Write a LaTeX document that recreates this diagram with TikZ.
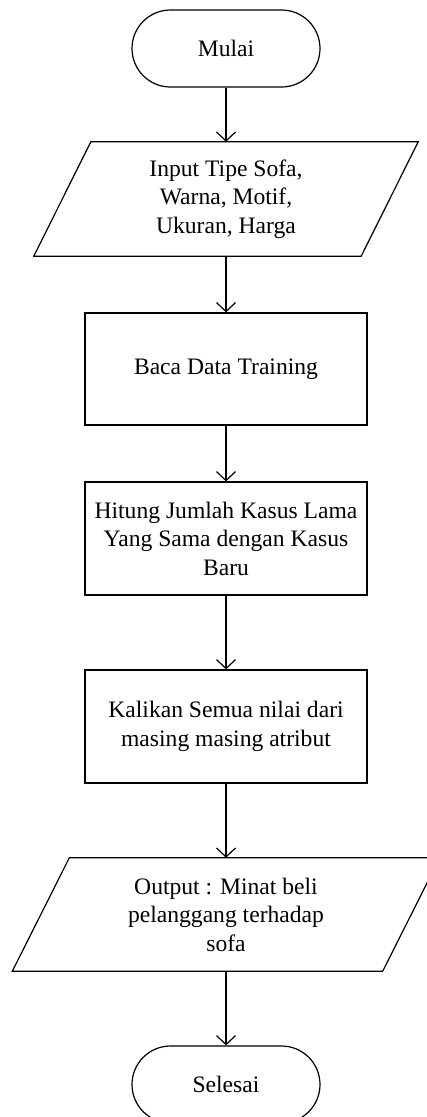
\documentclass[tikz,border=0pt]{standalone}
\usepackage{fontspec}
\setmainfont{Liberation Serif}
\usetikzlibrary{arrows.meta,calc}
\tikzset{
  flow/.style={line width=1.2pt, -{Straight Barb[length=9pt,width=19pt,line width=1.2pt]}},
  lbl/.style={font=\fontsize{23.6}{28.5}\selectfont, align=center, inner sep=0pt},
  terminal/.style={draw, line width=1.2pt, rounded corners=38.5pt, minimum width=188pt, minimum height=77pt, lbl},
  process/.style={draw, line width=1.2pt, minimum width=282pt, minimum height=113pt, lbl},
  io/.style={minimum height=114pt, lbl},
  slanted/.style={draw, line width=1.2pt, line join=miter}
}
\begin{document}
\begin{tikzpicture}[x=1pt, y=-1pt]
  \useasboundingbox (0,0) rectangle (427,1117);
  \fill[white] (0,0) rectangle (427,1117);
  \begin{scope}
    \clip (0,0) rectangle (427,1117);

    % start / input
    \node[terminal] (start) at (226,48.5) {Mulai};
    \node[io, minimum width=384pt] (input) at (226,199)
      {Input Tipe Sofa,\\Warna, Motif,\\Ukuran, Harga};
    \draw[slanted] (input.south west) -- ($(input.north west)+(57,0)$)
      -- (input.north east) -- ($(input.south east)-(57,0)$) -- cycle;

    % processing steps
    \node[process, minimum height=112pt] (read) at (226,369) {Baca Data Training};
    \node[process] (count) at (226,538.5)
      {Hitung Jumlah Kasus Lama\\Yang Sama dengan Kasus\\Baru};
    \node[process] (mult) at (226,726.5)
      {Kalikan Semua nilai dari\\masing masing atribut};

    % output / end
    \node[io, minimum width=427pt, minimum height=113pt] (output) at (226,914.5)
      {Output : Minat beli\\pelanggang terhadap\\sofa};
    \draw[slanted] (output.south west) -- ($(output.north west)+(57,0)$)
      -- (output.north east) -- ($(output.south east)-(57,0)$) -- cycle;
    \node[terminal] (finish) at (226,1084.5) {Selesai};

    % connectors
    \draw[flow] (start.south) -- (input.north);
    \draw[flow] (input.south) -- (read.north);
    \draw[flow] (read.south) -- (count.north);
    \draw[flow] (count.south) -- (mult.north);
    \draw[flow] (mult.south) -- (output.north);
    \draw[flow] (output.south) -- (finish.north);
  \end{scope}
\end{tikzpicture}
\end{document}
